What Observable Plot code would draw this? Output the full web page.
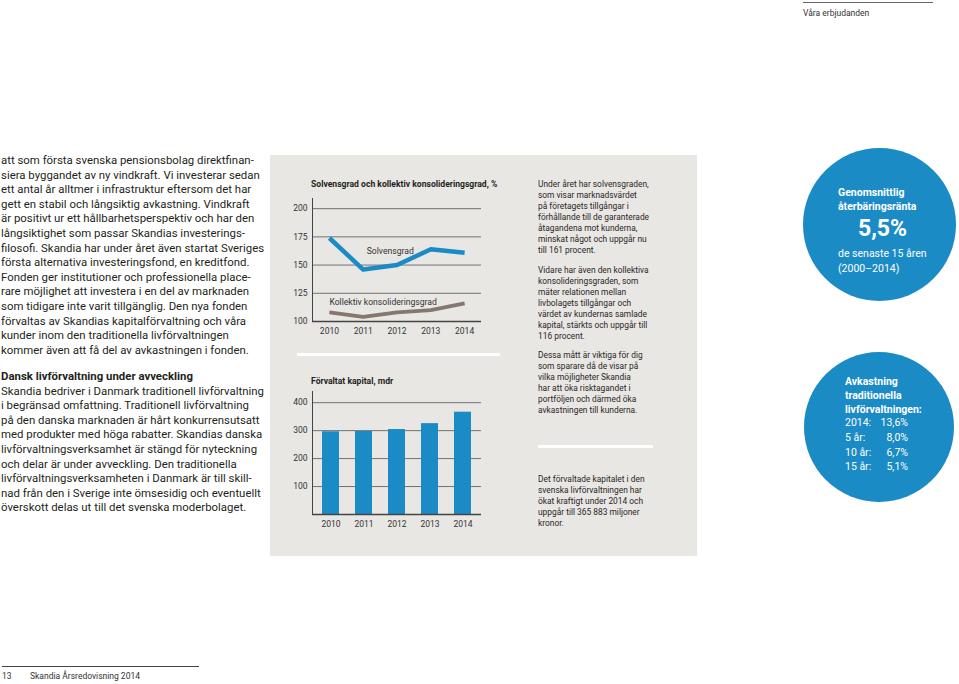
<!DOCTYPE html>
<html>
<head>
<meta charset="utf-8">
<script src="https://cdn.jsdelivr.net/npm/d3@7"></script>
<script src="https://cdn.jsdelivr.net/npm/@observablehq/plot@0.6"></script>
<style>
  html, body { margin: 0; padding: 0; background: #fff; }
  #page { position: relative; width: 959px; height: 684px; overflow: hidden; font-family: Roboto, "Noto Sans", sans-serif; color: #231f20; }
  .abs { position: absolute; }
  .body { font-size: 11.4px; line-height: 14.6px; white-space: nowrap; }
  .small { font-size: 8.4px; line-height: 11px; white-space: nowrap; color: #2a2626; }
  .ctitle { font-size: 8.6px; font-weight: 700; white-space: nowrap; color: #231f20; }
  .circle { border-radius: 50%; background: #1b8bc6; }
  .ctext { color: #fff; white-space: nowrap; }
</style>
</head>
<body>
<div id="page">
  <!-- header -->
  <div class="abs" style="left:803px; top:2px; width:130px; height:1px; background:#666;"></div>
  <div class="abs" style="left:803px; top:8px; font-size:8.5px; color:#333; white-space:nowrap;">Våra erbjudanden</div>

  <!-- left body text -->
  <div class="abs body" style="left:1px; top:153px;">att som första svenska pensionsbolag direktfinan-<br>siera byggandet av ny vindkraft. Vi investerar sedan<br>ett antal år alltmer i infrastruktur eftersom det har<br>gett en stabil och långsiktig avkastning. Vindkraft<br>är positivt ur ett hållbarhetsperspektiv och har den<br>långsiktighet som passar Skandias investerings-<br>filosofi. Skandia har under året även startat Sveriges<br>första alternativa investeringsfond, en kreditfond.<br>Fonden ger institutioner och professionella place-<br>rare möjlighet att investera i en del av marknaden<br>som tidigare inte varit tillgänglig. Den nya fonden<br>förvaltas av Skandias kapitalförvaltning och våra<br>kunder inom den traditionella livförvaltningen<br>kommer även att få del av avkastningen i fonden.</div>
  <div class="abs body" style="left:1px; top:369px;"><b>Dansk livförvaltning under avveckling</b><br>Skandia bedriver i Danmark traditionell livförvaltning<br>i begränsad omfattning. Traditionell livförvaltning<br>på den danska marknaden är hårt konkurrensutsatt<br>med produkter med höga rabatter. Skandias danska<br>livförvaltningsverksamhet är stängd för nyteckning<br>och delar är under avveckling. Den traditionella<br>livförvaltningsverksamheten i Danmark är till skill-<br>nad från den i Sverige inte ömsesidig och eventuellt<br>överskott delas ut till det svenska moderbolaget.</div>

  <!-- grey panel -->
  <div class="abs" style="left:270px; top:155px; width:427px; height:401px; background:#e9e7e4;"></div>
  <div class="abs" style="left:297px; top:353px; width:203px; height:3px; background:#fff;"></div>
  <div class="abs" style="left:538px; top:445px; width:115px; height:3px; background:#fff;"></div>

  <div class="abs ctitle" style="left:311px; top:179px;">Solvensgrad och kollektiv konsolideringsgrad, %</div>
  <div class="abs ctitle" style="left:311px; top:376px;">Förvaltat kapital, mdr</div>
  <div id="lineChart" class="abs" style="left:280px; top:170px;"></div>
  <div id="barChart" class="abs" style="left:280px; top:370px;"></div>

  <div class="abs small" style="left:538px; top:179px;">Under året har solvensgraden,<br>som visar marknadsvärdet<br>på företagets tillgångar i<br>förhållande till de garanterade<br>åtagandena mot kunderna,<br>minskat något och uppgår nu<br>till 161 procent.</div>
  <div class="abs small" style="left:538px; top:265px;">Vidare har även den kollektiva<br>konsolideringsgraden, som<br>mäter relationen mellan<br>livbolagets tillgångar och<br>värdet av kundernas samlade<br>kapital, stärkts och uppgår till<br>116 procent.</div>
  <div class="abs small" style="left:538px; top:350px;">Dessa mått är viktiga för dig<br>som sparare då de visar på<br>vilka möjligheter Skandia<br>har att öka risktagandet i<br>portföljen och därmed öka<br>avkastningen till kunderna.</div>
  <div class="abs small" style="left:538px; top:474px;">Det förvaltade kapitalet i den<br>svenska livförvaltningen har<br>ökat kraftigt under 2014 och<br>uppgår till 365 883 miljoner<br>kronor.</div>

  <!-- circles -->
  <div class="abs circle" style="left:803px; top:148px; width:153px; height:153px;"></div>
  <div class="abs ctext" style="left:838px; top:186px; font-size:10.5px; font-weight:700; line-height:14px;">Genomsnittlig<br>återbäringsränta</div>
  <div class="abs ctext" style="left:803px; width:153px; text-align:center; top:215px; font-size:23px; font-weight:700; line-height:28px; padding-left:6px; box-sizing:border-box;">5,5%</div>
  <div class="abs ctext" style="left:838px; top:246px; font-size:10.5px; line-height:15px;">de senaste 15 åren<br>(2000–2014)</div>

  <div class="abs circle" style="left:804px; top:352px; width:150px; height:150px;"></div>
  <div class="abs ctext" style="left:845px; top:375px; font-size:10.5px; font-weight:700; line-height:14px;">Avkastning<br>traditionella<br>livförvaltningen:</div>
  <div id="retTable" class="abs ctext" style="left:845px; top:416px; width:63px; font-size:10.5px; line-height:14.8px;"></div>

  <!-- footer -->
  <div class="abs" style="left:2px; top:666px; width:197px; height:1px; background:#444;"></div>
  <div class="abs" style="left:2px; top:671px; font-size:8.5px; color:#333; white-space:nowrap;">13</div>
  <div class="abs" style="left:30px; top:671px; font-size:8.5px; color:#333; white-space:nowrap;">Skandia Årsredovisning 2014</div>
</div>

<script>
// ---- data ----
const years = [2010, 2011, 2012, 2013, 2014];
const solvensgrad = [174, 146, 150, 164, 161];
const kollektiv = [108, 104, 108, 110, 116];
const kapital = [296, 297, 304, 325, 366];
const lineTicks = [100, 125, 150, 175, 200];
const barTicks = [100, 200, 300, 400];
const lineLabels = ["Solvensgrad", "Kollektiv konsolideringsgrad"];
const lineLabelYear = [2011.8, 2010];
const lineLabelValue = [162, 117];
const returnPeriods = ["2014:", "5 år:", "10 år:", "15 år:"];
const returnValues = ["13,6%", "8,0%", "6,7%", "5,1%"];

const blue = "#1b8bc6";
const brown = "#857770";
const yearFmt = d => String(d);

const solvData = years.map((y, i) => ({year: y, value: solvensgrad[i]}));
const kollData = years.map((y, i) => ({year: y, value: kollektiv[i]}));
const labelData = lineLabels.map((t, i) => ({text: t, year: lineLabelYear[i], value: lineLabelValue[i]}));

const lineChart = Plot.plot({
  width: 210, height: 175,
  marginLeft: 32, marginRight: 9, marginTop: 28, marginBottom: 24,
  style: {background: "transparent", fontFamily: "Roboto, sans-serif", fontSize: "8.5px", color: "#333"},
  x: {domain: [2009.5, 2014.5], label: null},
  y: {domain: [100, 209], label: null},
  marks: [
    Plot.gridY(lineTicks.slice(1), {stroke: "#555", strokeOpacity: 1, strokeWidth: 0.8}),
    Plot.frame({anchor: "left", stroke: "#444", strokeWidth: 1}),
    Plot.ruleY([100], {stroke: "#444", strokeWidth: 1.5}),
    Plot.axisX({ticks: years, tickFormat: yearFmt, tickSize: 0, tickPadding: 6, fontSize: 8.5}),
    Plot.axisY({ticks: lineTicks, tickSize: 0, tickPadding: 5, fontSize: 8.5}),
    Plot.line(kollData, {x: "year", y: "value", stroke: brown, strokeWidth: 3.8, strokeLinecap: "butt", strokeLinejoin: "round"}),
    Plot.line(solvData, {x: "year", y: "value", stroke: blue, strokeWidth: 4.5, strokeLinecap: "butt", strokeLinejoin: "round"}),
    Plot.text(labelData.slice(0, 1), {x: "year", y: "value", text: "text", textAnchor: "middle", fill: "#333", fontSize: 8.6}),
    Plot.text(labelData.slice(1), {x: "year", y: "value", text: "text", textAnchor: "start", fill: "#333", fontSize: 8.6})
  ]
});
document.getElementById("lineChart").appendChild(lineChart);

const barData = years.map((y, i) => ({year: y, value: kapital[i]}));
const barChart = Plot.plot({
  width: 210, height: 170,
  marginLeft: 32, marginRight: 9, marginTop: 21, marginBottom: 26,
  style: {background: "transparent", fontFamily: "Roboto, sans-serif", fontSize: "8.5px", color: "#333"},
  x: {domain: years, paddingInner: 0.5, paddingOuter: 0.25, label: null},
  y: {domain: [0, 440], label: null},
  marks: [
    Plot.gridY(barTicks, {stroke: "#555", strokeOpacity: 1, strokeWidth: 0.8}),
    Plot.barY(barData, {x: "year", y: "value", fill: blue}),
    Plot.frame({anchor: "left", stroke: "#444", strokeWidth: 1}),
    Plot.ruleY([0], {stroke: "#444", strokeWidth: 1.5}),
    Plot.axisX({tickFormat: yearFmt, tickSize: 0, tickPadding: 6, fontSize: 8.5}),
    Plot.axisY({ticks: barTicks, tickSize: 0, tickPadding: 5, fontSize: 8.5})
  ]
});
document.getElementById("barChart").appendChild(barChart);

// return table
const tbl = document.getElementById("retTable");
returnPeriods.forEach((p, i) => {
  const row = document.createElement("div");
  row.style.display = "flex";
  row.style.justifyContent = "space-between";
  row.innerHTML = `<span>${p}</span><span>${returnValues[i]}</span>`;
  tbl.appendChild(row);
});
</script>
</body>
</html>
